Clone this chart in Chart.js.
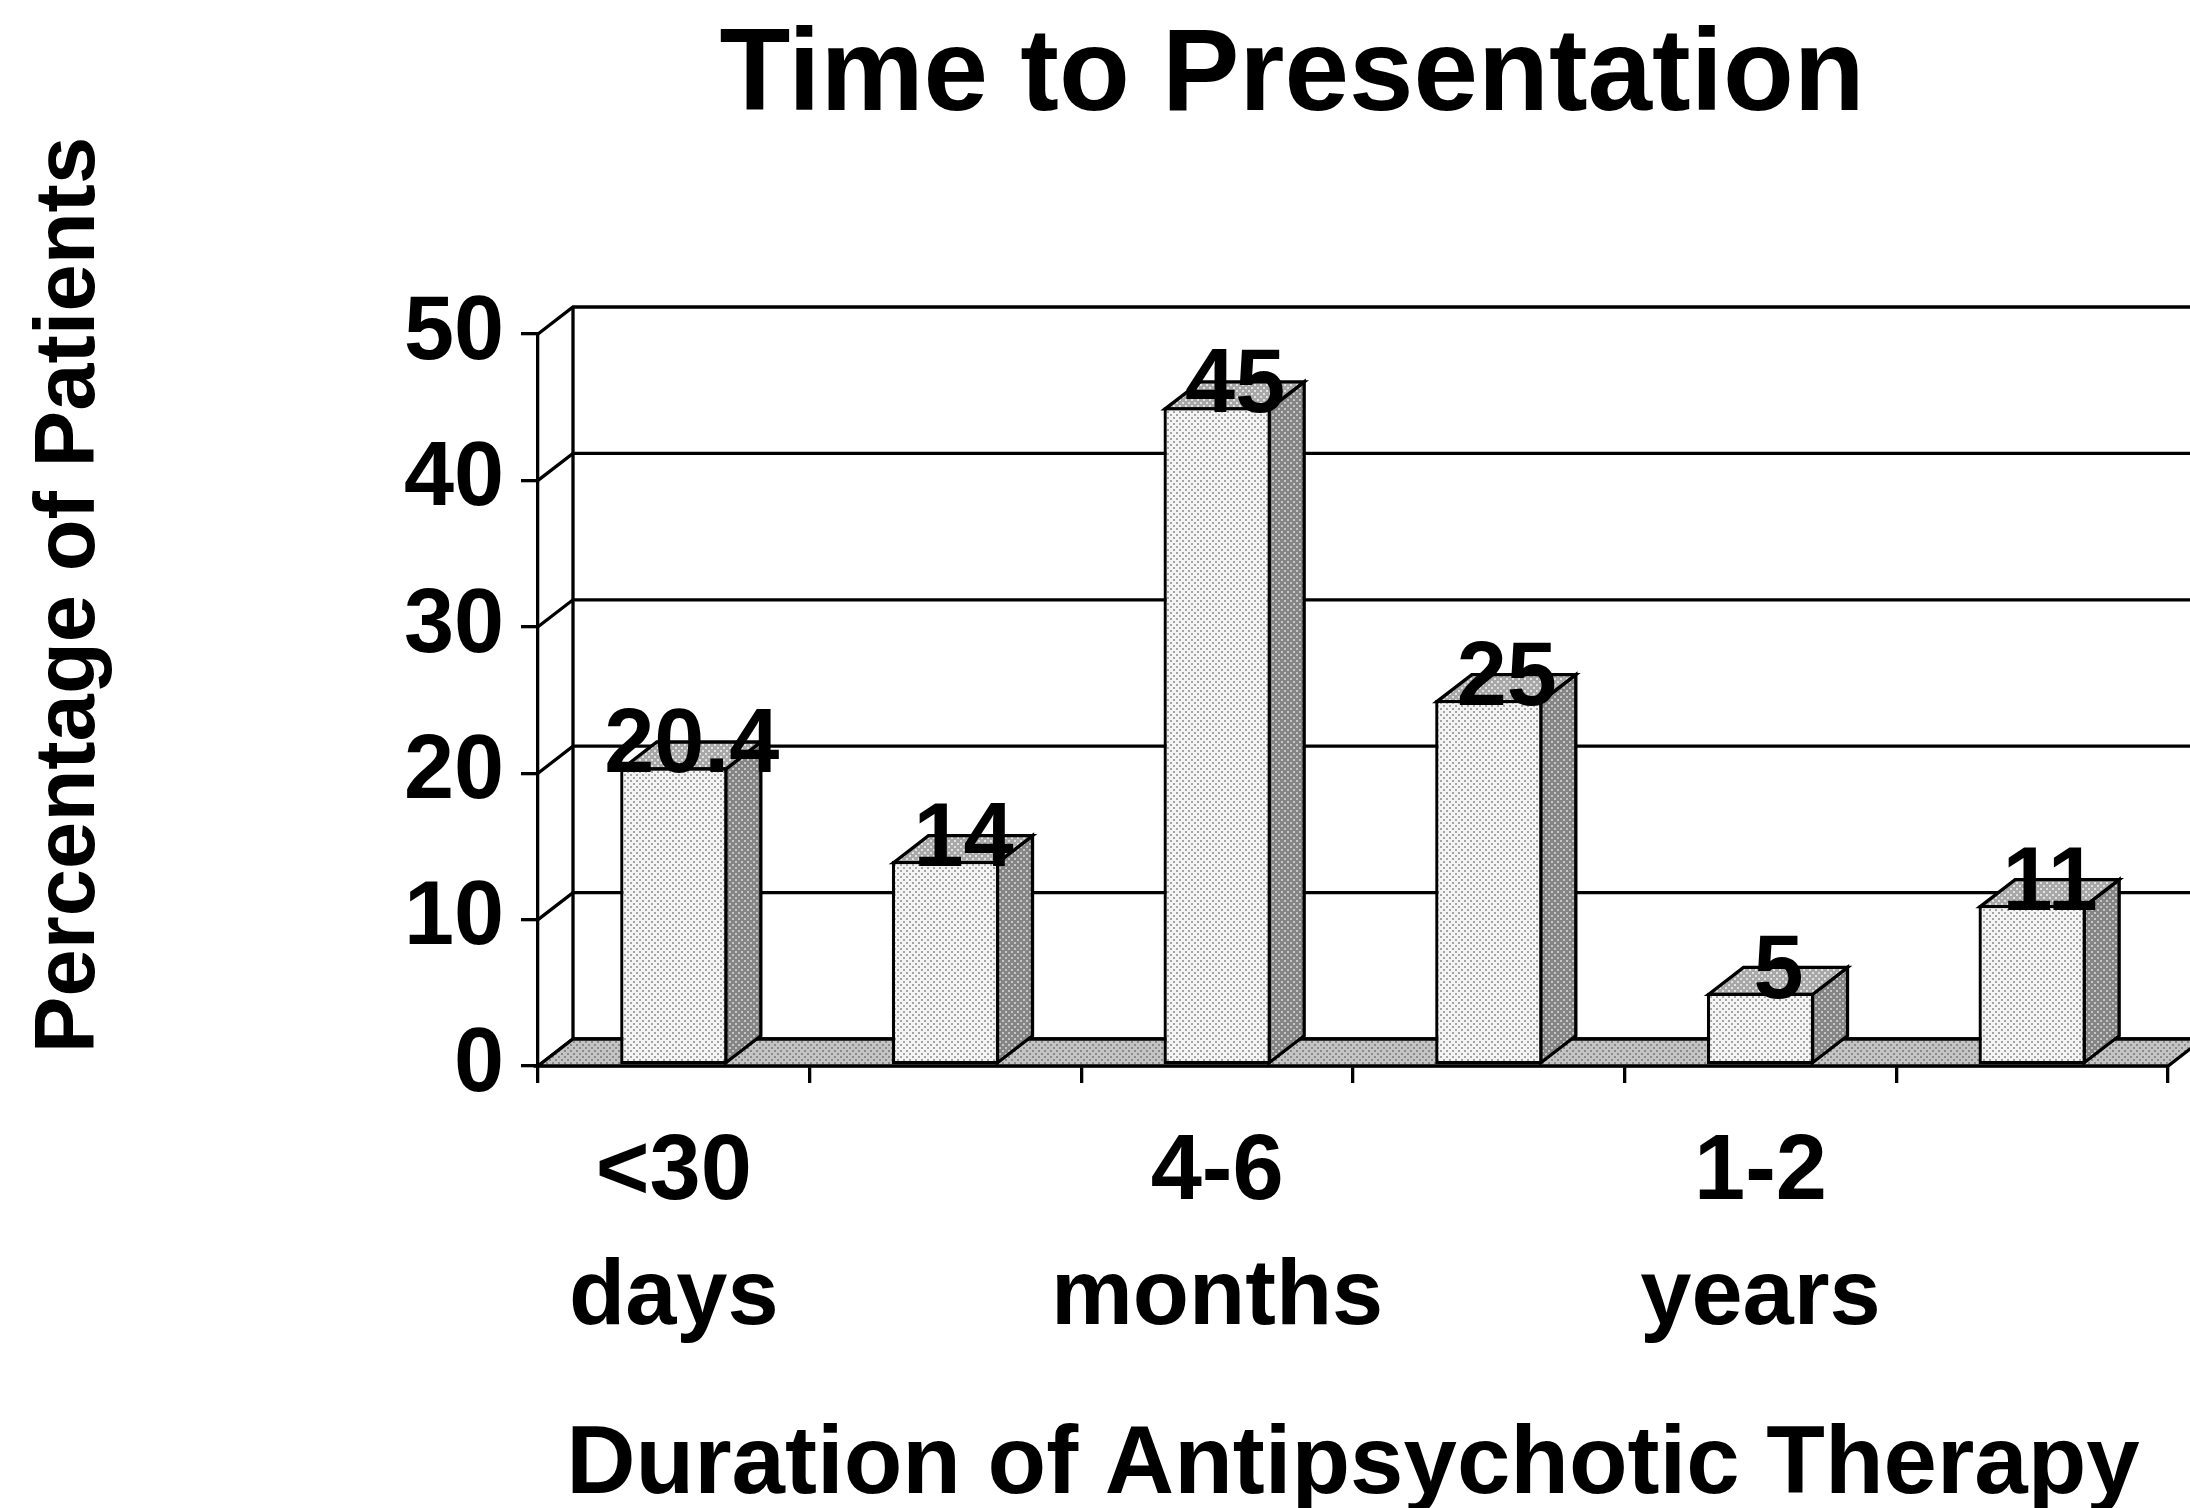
<!DOCTYPE html>
<html>
<head>
<meta charset="utf-8">
<title>Time to Presentation</title>
<script src="https://cdn.jsdelivr.net/npm/chart.js@4.4.1/dist/chart.umd.min.js"></script>
<style>
  html, body { margin: 0; padding: 0; background: #fff; overflow: hidden; }
  #wrap { width: 2190px; height: 1508px; }
</style>
</head>
<body>
<div id="wrap"><canvas id="chart" width="2190" height="1508"></canvas></div>
<script>
// ============================================================
//  Time to Presentation — 3D-look column chart
// ============================================================

// ─── Data ───────────────────────────────────────────────────
const CATEGORIES       = [["<30", "days"], "", ["4-6", "months"], "", ["1-2", "years"], ""];
const PERCENT_PATIENTS = [20.4, 14, 45, 25, 5, 11];
const Y_TICKS          = [0, 10, 20, 30, 40, 50];

const CHART_TITLE = "Time to Presentation";
const X_TITLE     = "Duration of Antipsychotic Therapy";
const Y_TITLE     = "Percentage of Patients";

// ─── Style ──────────────────────────────────────────────────
const FONT    = "'Liberation Sans', Arial, sans-serif";
const LINE    = 3.3;
const DEPTH_X = 35;
const DEPTH_Y = -27;

function makePattern(bg, dot) {
  const c = document.createElement("canvas");
  c.width = 6; c.height = 6;
  const g = c.getContext("2d");
  g.fillStyle = bg;
  g.fillRect(0, 0, 6, 6);
  g.fillStyle = dot;
  g.fillRect(0, 0, 2, 2);
  g.fillRect(3, 3, 2, 2);
  return g.createPattern(c, "repeat");
}

const PAT = {
  front: makePattern("#f4f4f4", "#a4a4a4"),
  top:   makePattern("#a8a8a8", "#e2e2e2"),
  side:  makePattern("#858585", "#c6c6c6"),
  floor: makePattern("#c4c4c4", "#8a8a8a")
};

// ─── 3D faces, walls and labels ─────────────────────────────
const depthPlugin = {
  id: "depth3d",
  beforeDatasetsDraw(chart) {
    const { ctx, chartArea: a, scales: { y } } = chart;
    const y0 = y.getPixelForValue(0);
    const yMax = y.getPixelForValue(Y_TICKS[Y_TICKS.length - 1]);
    ctx.save();
    ctx.lineWidth = LINE;
    ctx.strokeStyle = "#000";
    ctx.lineJoin = "miter";

    // back wall grid + left wall diagonals
    Y_TICKS.forEach(v => {
      const py = y.getPixelForValue(v);
      ctx.beginPath();
      ctx.moveTo(a.left, py);
      ctx.lineTo(a.left + DEPTH_X, py + DEPTH_Y);
      ctx.lineTo(chart.width + 10, py + DEPTH_Y);
      ctx.stroke();
    });
    ctx.beginPath();
    ctx.moveTo(a.left + DEPTH_X, y0 + DEPTH_Y);
    ctx.lineTo(a.left + DEPTH_X, yMax + DEPTH_Y);
    ctx.stroke();

    // floor
    ctx.beginPath();
    ctx.moveTo(a.left, y0);
    ctx.lineTo(a.right, y0);
    ctx.lineTo(a.right + DEPTH_X, y0 + DEPTH_Y);
    ctx.lineTo(a.left + DEPTH_X, y0 + DEPTH_Y);
    ctx.closePath();
    ctx.fillStyle = PAT.floor;
    ctx.fill();
    ctx.stroke();

    // bar side + top faces
    chart.getDatasetMeta(0).data.forEach(bar => {
      const p = bar.getProps(["x", "y", "base", "width"], true);
      const l = p.x - p.width / 2 + LINE / 2;
      const r = p.x + p.width / 2 - LINE / 2;
      const t = p.y + LINE / 2;
      const b = p.base - LINE / 2;

      ctx.beginPath();
      ctx.moveTo(r, t);
      ctx.lineTo(r + DEPTH_X, t + DEPTH_Y);
      ctx.lineTo(r + DEPTH_X, b + DEPTH_Y);
      ctx.lineTo(r, b);
      ctx.closePath();
      ctx.fillStyle = PAT.side;
      ctx.fill();
      ctx.stroke();

      ctx.beginPath();
      ctx.moveTo(l, t);
      ctx.lineTo(l + DEPTH_X, t + DEPTH_Y);
      ctx.lineTo(r + DEPTH_X, t + DEPTH_Y);
      ctx.lineTo(r, t);
      ctx.closePath();
      ctx.fillStyle = PAT.top;
      ctx.fill();
      ctx.stroke();
    });
    ctx.restore();
  },
  afterDatasetsDraw(chart) {
    const { ctx } = chart;
    ctx.save();
    ctx.font = `bold 90px ${FONT}`;
    ctx.fillStyle = "#000";
    ctx.textAlign = "center";
    ctx.textBaseline = "alphabetic";
    chart.getDatasetMeta(0).data.forEach((bar, i) => {
      const p = bar.getProps(["x", "y"], true);
      ctx.fillText(String(PERCENT_PATIENTS[i]), p.x + 18, p.y + 5);
    });
    ctx.restore();
  },
  afterDraw(chart) {
    const { ctx, chartArea: a } = chart;
    ctx.save();
    ctx.fillStyle = "#000";
    ctx.textAlign = "center";
    ctx.textBaseline = "alphabetic";

    ctx.font = `bold 116px ${FONT}`;
    ctx.fillText(CHART_TITLE, 1292, 110);

    ctx.font = `bold 96px ${FONT}`;
    ctx.fillText(X_TITLE, (a.left + a.right) / 2, 1493);

    ctx.font = `bold 85px ${FONT}`;
    ctx.translate(94, 595);
    ctx.rotate(-Math.PI / 2);
    ctx.fillText(Y_TITLE, 0, 0);
    ctx.restore();
  }
};

// ─── Chart ──────────────────────────────────────────────────
new Chart(document.getElementById("chart").getContext("2d"), {
  type: "bar",
  data: {
    labels: CATEGORIES,
    datasets: [{
      data: PERCENT_PATIENTS,
      backgroundColor: PAT.front,
      borderColor: "#000",
      borderWidth: LINE,
      borderSkipped: false,
      categoryPercentage: 1,
      barPercentage: 0.395
    }]
  },
  options: {
    responsive: false,
    animation: false,
    devicePixelRatio: 1,
    layout: { padding: { top: 334, right: 22, left: 0, bottom: 0 } },
    plugins: { legend: { display: false }, tooltip: { enabled: false }, title: { display: false } },
    scales: {
      x: {
        grid: { drawOnChartArea: false, drawTicks: true, tickLength: 17, color: "#000", lineWidth: LINE, offset: true },
        border: { display: true, color: "#000", width: LINE },
        ticks: {
          autoSkip: false, maxRotation: 0, minRotation: 0, padding: 28, color: "#000",
          font: { family: FONT, size: 92, weight: "bold", lineHeight: 1.36 }
        },
        afterFit: s => { s.height = 442; }
      },
      y: {
        min: 0, max: 50,
        afterBuildTicks: s => { s.ticks = Y_TICKS.map(v => ({ value: v })); },
        grid: { drawOnChartArea: false, drawTicks: true, tickLength: 17, color: "#000", lineWidth: LINE },
        border: { display: true, color: "#000", width: LINE },
        ticks: { padding: 17, color: "#000", font: { family: FONT, size: 90, weight: "bold" } },
        afterFit: s => { s.width = 538; }
      }
    }
  },
  plugins: [depthPlugin]
});
</script>
</body>
</html>
